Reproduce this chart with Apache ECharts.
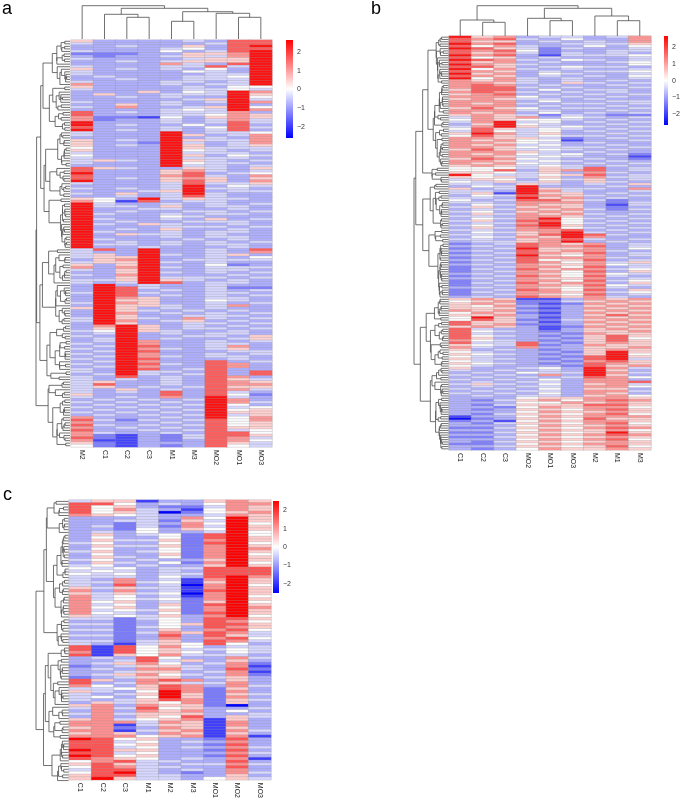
<!DOCTYPE html>
<html>
<head>
<meta charset="utf-8">
<script src="https://cdn.jsdelivr.net/npm/echarts@6/dist/echarts.min.js"></script>
<style>
  html, body { margin: 0; padding: 0; background: #fff; }
  #chart { width: 683px; height: 801px; }
</style>
</head>
<body>
<div id="chart"></div>
<script>
// column order as drawn in each panel
const colsA = ['M2', 'C1', 'C2', 'C3', 'M1', 'M3', 'MO2', 'MO1', 'MO3'];
const colsB = ['C1', 'C2', 'C3', 'MO2', 'MO1', 'MO3', 'M2', 'M1', 'M3'];
const colsC = ['C1', 'C2', 'C3', 'M1', 'M2', 'M3', 'MO1', 'MO2', 'MO3'];

// z-score level, one digit per cell
const levels = [-2.5, -1.9, -1.3, -0.8, -0.4, 0, 0.5, 1.1, 1.7, 2.5];

// colour scale extent of each legend
const rangeA = [-2.6, 2.65];
const rangeB = [-2.65, 2.68];
const rangeC = [-2.5, 2.5];
const barTicks = [-2, -1, 0, 1, 2];

// column trees: [height, left, right], leaves = column index
const colTreeA = [33.3, 0, [30.7, [24.7, 1, [21.7, 2, 3]], [27.3, [17.7, 4, 5], [25.7, 6, [21.7, 7, 8]]]]];
const colTreeB = [30.3, [16, 0, [13.7, 1, 2]], [27.7, [17.7, 3, [15.3, 4, 5]], [20, 6, [15.3, 7, 8]]]];

const rowsA = [
  "633334388", "433333488", "334336389", "333345388", "433353489", "222336679", "323346479", "433334669", "334346669", "333374389",
  "433344849", "634343539", "433335439", "433333449", "343334459", "334334449", "433344349", "733343449", "633334355", "433334454",
  "333635497", "363344496", "334343395", "333334694", "433343497", "336343393", "437334695", "333345497",
  "834344473", "833344576", "722153676", "723343474", "933343484", "934335383", "833343584", "934343483",
  "433393445", "433396347", "333393437", "634396447", "633294347", "634396346", "533396444", "633395434", "433394443", "533396354",
  "433394443", "464396434", "433395443", "333394434",
  "864336436", "833367434", "933368345", "833378437", "834367636", "933368637", "433348446", "333349354", "434349443", "333469344",
  "436349433", "334348433", "653946443", "751834433",
  "943343434", "944363443", "933443343", "934334434", "943343443", "933354333", "943343634", "934334443", "943643343", "933344434",
  "934363343", "943343443", "936443433", "933343443", "943334343", "934343434", "944343443", "933433343",
  "483933438", "433933437", "463943463", "466933435", "367934444", "466943433", "636933523", "737943444", "436933443", "336943434",
  "437933343", "336944434", "446964343", "434983443",
  "393433433", "398433422", "398343434", "498433443", "398343434", "397633443", "396633543", "497633434", "396643473", "696343433",
  "396434343", "397343434", "396334443", "496437434", "497346343", "396334434",
  "379634343", "369634434", "459643343", "349343443", "439334436", "349343346", "349733434", "439733443", "349833473", "439743463",
  "349833344", "439733434", "349743443", "439833343", "349733834", "439843873", "349733873", "439834833", "439443838", "349434838",
  "438343873", "434343864", "463343876", "483343877", "463434866", "436343874", "434383843", "633383852", "434373943", "343434973",
  "434343974", "343434953", "434343945", "343434956", "434343966", "343434946", "733343957", "842434857", "733343856", "843434856",
  "734343866", "833434845", "743343885", "721324886", "821324874", "711323875", "621333864", "521323854"
];

const rowsB = [
  "967344347", "878435337", "866343437", "978334446", "857433535", "986424334", "878523344", "867424343", "978314445", "856343334",
  "987435434", "867343345", "976433335", "886345443", "957434334", "876343445", "967354334", "876343435", "957434334",
  "767434343", "776436434", "787343343", "788434334", "688353443", "787434343", "678343434", "777534343", "676443433", "777353344",
  "767434434", "777343343", "686534434", "777443343", "767353434", "676424322",
  "476735434", "576554343", "479453434", "369543343", "479645434", "586454343", "485453434", "697463343", "586454434",
  "776642343", "767551334", "776543433", "767453343", "776544434", "686454343", "777643433", "767545342", "776454331", "687543432",
  "776454343", "767543434", "676454343",
  "555464834", "558367834", "665463743", "954456834", "656463744", "465354634", "546463643",
  "443643436", "354933343", "634964437", "443974334", "461966343", "354876434", "443967343", "534886423", "443777324", "354766314",
  "463676323", "344767424", "453676333", "364767434", "443776343", "354795434", "463885343", "344795434", "453896343", "364785434",
  "443778343", "354679434", "443689843", "354769733", "443678434", "344679343",
  "234876734", "343877834", "234966735", "343867743", "234876834", "343965734", "234877743", "343856834", "234875746", "343766754",
  "234775834", "243867745", "234775836", "343765754", "234875843", "343766734", "234775845", "243867736", "234776854", "343765743",
  "234875836", "243776745", "234765834", "343876743",
  "676113767", "567224676", "676212767", "657323676", "666213767", "767323676", "576213767", "667323686", "596313767", "586224676",
  "866313767", "867223676", "676312767",
  "843313676", "854323667", "843332766", "854323686", "863332685", "754323686", "844832676", "654823766", "743733667", "634323676",
  "543332696", "654323695", "543332896", "644323894", "543332786", "654323876", "543332867",
  "633453974", "434343963", "343544974", "434373963", "343434875", "434353773", "343443778", "464353674", "343443775", "434353663",
  "343443774", "434353763", "343443675",
  "333566776", "324675787", "333557676", "324666886", "332576775", "323665786", "333576676", "324665785", "133576777", "023665866",
  "231576776", "324665785", "333576676", "224665787", "333576675", "224665696", "333576787", "224665676", "333576785", "324665676",
  "223576776", "334665685", "323576676"
];

const rowsC = [
  "466133676", "885343577", "856322476", "857431576", "856402567", "765433476", "333437596", "334426496", "332437595", "342427496",
  "332536596", "343533495", "363452895", "353352896", "364462796", "453352895", "364462796", "353352797", "463452796", "353362795",
  "364352796", "453433696", "364352795", "453433696", "545344888", "454343888", "545344888", "444353897", "437341796", "447451696",
  "438340795", "646441796", "737341896", "646450796", "745341795", "745452796", "756342695", "745362896", "756352797", "745462796",
  "754352896", "645463795", "442453886", "332353875", "442356886", "332453876", "442363785", "332476874", "442383864", "332373785",
  "442463874", "431465853", "818575344", "818564454", "718565354", "816574443", "343853374", "334846363", "346753472", "234664371",
  "343774382", "334663471", "346754372", "234663463", "863787363", "834764473", "753687374", "445687263", "643597273", "434696264",
  "453596273", "434687264", "364657263", "673766203", "474856334", "373767353", "474666334", "373658364", "674567163", "777476173",
  "771466173", "672376163", "771467174", "676376163", "777567171", "985633283", "884534373", "885633283", "884534374", "986633283",
  "884533374", "985633283", "876534371", "578443383", "686434474", "587443383", "488434373", "589432374", "688443363", "696443564"
];

const FONT = 'Liberation Sans, Arial, sans-serif';
const LINE = '#4d4d4d';

function decode(rows) {
  return rows.map(r => r.split('').map(ch => levels[+ch]));
}

// row tree: complete linkage, only neighbouring clusters may join (keeps drawn order)
function rowTree(mat) {
  const D = mat.map(a => mat.map(b => Math.sqrt(a.reduce((s, v, k) => s + (v - b[k]) * (v - b[k]), 0))));
  const link = (A, B) => {
    let d = 0;
    for (const i of A.m) for (const j of B.m) if (D[i][j] > d) d = D[i][j];
    return d;
  };
  let cl = mat.map((_, i) => ({ m: [i], p: i, h: 0 }));
  const segs = [];
  while (cl.length > 1) {
    let bi = 0, bd = Infinity;
    for (let k = 0; k < cl.length - 1; k++) {
      const d = link(cl[k], cl[k + 1]);
      if (d < bd) { bd = d; bi = k; }
    }
    const A = cl[bi], B = cl[bi + 1];
    const h = Math.max(bd, A.h, B.h);
    segs.push([A.h, A.p, h, A.p, h, B.p, B.h, B.p]);
    cl.splice(bi, 2, { m: A.m.concat(B.m), p: (A.p + B.p) / 2, h: h });
  }
  return { segs: segs, top: cl[0].h };
}

function colTree(node, segs) {
  if (typeof node === 'number') return { p: node, h: 0 };
  const L = colTree(node[1], segs), R = colTree(node[2], segs);
  segs.push([L.p, L.h, L.p, node[0], R.p, node[0], R.p, R.h]);
  return { p: (L.p + R.p) / 2, h: node[0] };
}

function renderSeg(params, api) {
  const pts = [];
  for (let i = 0; i < 4; i++) pts.push(api.coord([api.value(2 * i), api.value(2 * i + 1)]));
  return { type: 'polyline', shape: { points: pts }, style: { stroke: LINE, lineWidth: 0.8, fill: null }, silent: true };
}

const option = {
  animation: false,
  backgroundColor: '#ffffff',
  grid: [], xAxis: [], yAxis: [], series: [], visualMap: [],
  graphic: [
    { type: 'text', left: 2, top: 0, style: { text: 'a', font: '18px ' + FONT, fill: '#000' } },
    { type: 'text', left: 371, top: 0, style: { text: 'b', font: '18px ' + FONT, fill: '#000' } },
    { type: 'text', left: 3, top: 486, style: { text: 'c', font: '18px ' + FONT, fill: '#000' } }
  ]
};

function addGrid(box, xa, ya) {
  const gi = option.grid.length;
  option.grid.push(Object.assign({ containLabel: false }, box));
  option.xAxis.push(Object.assign({ gridIndex: gi }, xa));
  option.yAxis.push(Object.assign({ gridIndex: gi }, ya));
  return gi;
}

function panel(p) {
  const mat = decode(p.rows);
  const n = mat.length;
  const data = [];
  mat.forEach((r, i) => r.forEach((v, j) => data.push([j, i, v])));

  // heatmap body
  let gi = addGrid(p.heat,
    {
      type: 'category', data: p.cols, position: 'bottom',
      axisLine: { show: false }, axisTick: { show: false }, splitLine: { show: false },
      axisLabel: { rotate: -90, fontSize: 7, color: '#222', margin: 3, fontFamily: FONT, interval: 0 }
    },
    { type: 'category', data: mat.map((_, i) => String(i)), inverse: true, show: false });
  option.series.push({
    type: 'heatmap', xAxisIndex: gi, yAxisIndex: gi, data: data,
    itemStyle: { borderColor: 'rgba(150,150,150,0.55)', borderWidth: 0.5 },
    emphasis: { disabled: true }
  });
  option.visualMap.push({
    type: 'continuous', show: false, seriesIndex: option.series.length - 1,
    min: p.range[0], max: p.range[1], inRange: { color: ['#0000FF', '#FFFFFF', '#FF0000'] }
  });

  // row dendrogram on the left
  const rt = rowTree(mat);
  gi = addGrid(p.rowDend,
    { type: 'value', min: 0, max: rt.top, inverse: true, show: false },
    { type: 'value', min: -0.5, max: n - 0.5, inverse: true, show: false });
  option.series.push({ type: 'custom', xAxisIndex: gi, yAxisIndex: gi, renderItem: renderSeg, data: rt.segs, clip: false, silent: true });

  // column dendrogram on top
  if (p.colTree) {
    const segs = [];
    colTree(p.colTree, segs);
    gi = addGrid(p.colDend,
      { type: 'value', min: -0.5, max: p.cols.length - 0.5, show: false },
      { type: 'value', min: 0, max: p.colTree[0], show: false });
    option.series.push({ type: 'custom', xAxisIndex: gi, yAxisIndex: gi, renderItem: renderSeg, data: segs, clip: false, silent: true });
  }

  // legend bar
  const lo = p.range[0], hi = p.range[1];
  gi = addGrid(p.bar,
    { type: 'value', min: 0, max: 1, show: false },
    {
      type: 'value', min: lo, max: hi, position: 'right',
      axisLine: { show: false }, axisTick: { show: false }, splitLine: { show: false },
      axisLabel: {
        fontSize: 7, color: '#333', margin: 4, fontFamily: FONT,
        formatter: v => barTicks.includes(v) ? String(v).replace('-', '\u2212') : ''
      }
    });
  option.series.push({
    type: 'custom', xAxisIndex: gi, yAxisIndex: gi, clip: false, silent: true,
    data: [[0, lo, 1, hi]],
    renderItem: (params, api) => {
      const a = api.coord([api.value(0), api.value(3)]);
      const b = api.coord([api.value(2), api.value(1)]);
      return {
        type: 'rect',
        shape: { x: a[0], y: a[1], width: b[0] - a[0], height: b[1] - a[1] },
        style: {
          fill: new echarts.graphic.LinearGradient(0, 0, 0, 1, [
            { offset: 0, color: '#FF0000' }, { offset: 0.5, color: '#FFFFFF' }, { offset: 1, color: '#0000FF' }
          ])
        }
      };
    }
  });
}

panel({
  rows: rowsA, cols: colsA, range: rangeA, colTree: colTreeA,
  heat: { left: 71, top: 40, width: 201, height: 407 },
  rowDend: { left: 36, top: 40, width: 34, height: 407 },
  colDend: { left: 71, top: 5.7, width: 201, height: 33.3 },
  bar: { left: 286, top: 40, width: 7, height: 98 }
});
panel({
  rows: rowsB, cols: colsB, range: rangeB, colTree: colTreeB,
  heat: { left: 449, top: 36, width: 202, height: 414 },
  rowDend: { left: 414, top: 36, width: 34.5, height: 414 },
  colDend: { left: 449, top: 5.7, width: 202, height: 30.3 },
  bar: { left: 664, top: 36, width: 7, height: 89 }
});
panel({
  rows: rowsC, cols: colsC, range: rangeC, colTree: null,
  heat: { left: 69, top: 500, width: 202, height: 282 },
  rowDend: { left: 36, top: 500, width: 32.5, height: 282 },
  bar: { left: 273, top: 501, width: 6, height: 92 }
});

const chart = echarts.init(document.getElementById('chart'), null, { renderer: 'canvas' });
chart.setOption(option);
</script>
</body>
</html>
